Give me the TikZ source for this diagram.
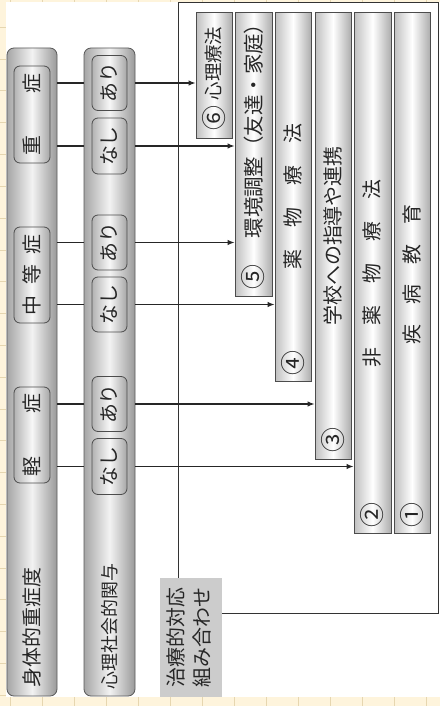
\documentclass[tikz,border=0pt]{standalone}
\usepackage{fontspec}
\setmainfont{Noto Sans CJK JP}
\usepackage{graphicx}
\usetikzlibrary{arrows.meta}
\definecolor{cream}{HTML}{FEF4DC}
\definecolor{gridc}{HTML}{E6D6B0}
\definecolor{ink}{HTML}{262626}
\tikzset{
 col/.style={draw=black!65, line width=0.8bp, rounded corners=7bp, left color=black!35, right color=black!40, middle color=black!5, inner sep=0pt},
 inbox/.style={draw=black!70, line width=0.8bp, rounded corners=6bp, left color=black!30, right color=black!35, middle color=black!3, inner sep=0pt, text=ink},
 bar/.style={draw=black!70, line width=1bp, left color=black!25, right color=black!32, middle color=white, inner sep=0pt},
 lbl/.style={inner sep=0pt, text=ink},
 conn/.style={draw=ink, line width=1.1bp},
 arr/.style={conn, -{Latex[length=7bp,width=5.5bp]}},
 frame/.style={draw=black!80, line width=1bp},
 ftw/.style={font=\fontsize{20}{24}\selectfont},
 fnum/.style={font=\fontsize{25}{28}\selectfont},
}
\begin{document}
\begin{tikzpicture}[x=1bp,y=-1bp]
\useasboundingbox (0,0) rectangle (440,706);
\fill[cream] (0,0) rectangle (440,706);
\foreach \i in {0,...,13} \draw[gridc, line width=0.8bp] ({10+32*\i},0) -- ({10+32*\i},706);
\foreach \j in {0,...,22} \draw[gridc, line width=0.8bp] (0,{27.3+31.8*\j}) -- (440,{27.3+31.8*\j});
\fill[white] (6,2) rectangle (440,697);

% label box and frame
\node[fill=black!20, minimum width=62bp, minimum height=119bp, inner sep=0pt, text=ink, font=\fontsize{20}{26}\selectfont] (lab) at (191,637.5) {\rotatebox{90}{\begin{tabular}{@{}l@{}}治療的対応\\組み合わせ\end{tabular}}};
\coordinate (ftl) at (178,2.5);
\coordinate (ftr) at (438,2.5);
\coordinate (fbr) at (438,613);
\draw[frame] (lab.north -| ftl) -- (ftl) -- (ftr) -- (fbr) -- (fbr -| lab.east);

% columns
\node[col, minimum width=50bp, minimum height=648bp] (c1) at (32,372) {};
\node[col, minimum width=51bp, minimum height=648bp] (c2) at (109.5,372) {};
\node[lbl, font=\fontsize{20}{24}\selectfont] (l1) at (32,627.5) {\rotatebox{90}{身体的重症度}};
\node[lbl, font=\fontsize{18}{21}\selectfont] (l2) at (109.5,626.5) {\rotatebox{90}{心理社会的関与}};

% severity boxes
\node[inbox, ftw, minimum width=36bp, minimum height=97bp] (k1) at (32,114.5) {\rotatebox{90}{重\hspace{43bp}症}};
\node[inbox, ftw, minimum width=36bp, minimum height=96bp] (k2) at (32,275) {\rotatebox{90}{中\hspace{11bp}等\hspace{11bp}症}};
\node[inbox, ftw, minimum width=36bp, minimum height=96bp] (k3) at (32,435) {\rotatebox{90}{軽\hspace{44bp}症}};

% psychosocial boxes
\node[inbox, ftw, minimum width=35bp, minimum height=55bp] (a1) at (109.5,83) {\rotatebox{90}{あり}};
\node[inbox, ftw, minimum width=35bp, minimum height=56bp] (n1) at (109.5,146) {\rotatebox{90}{なし}};
\node[inbox, ftw, minimum width=35bp, minimum height=55bp] (a2) at (109.5,242.5) {\rotatebox{90}{あり}};
\node[inbox, ftw, minimum width=35bp, minimum height=55bp] (n2) at (109.5,304.5) {\rotatebox{90}{なし}};
\node[inbox, ftw, minimum width=35bp, minimum height=55bp] (a3) at (109.5,404) {\rotatebox{90}{あり}};
\node[inbox, ftw, minimum width=35bp, minimum height=56bp] (n3) at (109.5,466.5) {\rotatebox{90}{なし}};

% treatment bars
\node[bar, minimum width=36bp, minimum height=125bp] (b6) at (214,75.5) {};
\node[bar, minimum width=37bp, minimum height=283bp] (b5) at (253.5,154.5) {};
\node[bar, minimum width=36bp, minimum height=368bp] (b4) at (293,197) {};
\node[bar, minimum width=36bp, minimum height=446bp] (b3) at (333,236) {};
\node[bar, minimum width=37bp, minimum height=520bp] (b2) at (372.5,273) {};
\node[bar, minimum width=36bp, minimum height=520bp] (b1) at (412,273) {};

\node[lbl, fnum] (o6) at (214,118) {\rotatebox{90}{⑥}};
\node[lbl, font=\fontsize{18.5}{22}\selectfont] (t6) at (214,63.5) {\rotatebox{90}{心理療法}};
\node[lbl, fnum] (o5) at (253.5,277) {\rotatebox{90}{⑤}};
\node[lbl, font=\fontsize{20.5}{24}\selectfont] (t5) at (253.5,126) {\rotatebox{90}{環境調整（友達・家庭）}};
\node[lbl, fnum] (o4) at (293,363) {\rotatebox{90}{④}};
\node[lbl, ftw] (t4) at (293,196.5) {\rotatebox{90}{薬\hspace{22bp}物\hspace{22bp}療\hspace{22bp}法}};
\node[lbl, fnum] (o3) at (333,440) {\rotatebox{90}{③}};
\node[lbl, ftw] (t3) at (333,236) {\rotatebox{90}{学校への指導や連携}};
\node[lbl, fnum] (o2) at (372.5,515) {\rotatebox{90}{②}};
\node[lbl, ftw] (t2) at (372.5,273.5) {\rotatebox{90}{非\hspace{22bp}薬\hspace{22bp}物\hspace{22bp}療\hspace{22bp}法}};
\node[lbl, fnum] (o1) at (412,515) {\rotatebox{90}{①}};
\node[lbl, ftw] (t1) at (412,274.5) {\rotatebox{90}{疾\hspace{20bp}病\hspace{20bp}教\hspace{20bp}育}};

% connectors
\foreach \b in {a1,n1,a2,n2,a3,n3} \draw[conn] (c1.east |- \b) -- (c2.west |- \b);
\draw[arr] (c2.east |- a1) -- (a1 -| b6.west);
\draw[arr] (c2.east |- n1) -- (n1 -| b5.west);
\draw[arr] (c2.east |- a2) -- (a2 -| b5.west);
\draw[arr] (c2.east |- n2) -- (n2 -| b4.west);
\draw[arr] (c2.east |- a3) -- (a3 -| b3.west);
\draw[arr] (c2.east |- n3) -- (n3 -| b2.west);
\end{tikzpicture}
\end{document}
